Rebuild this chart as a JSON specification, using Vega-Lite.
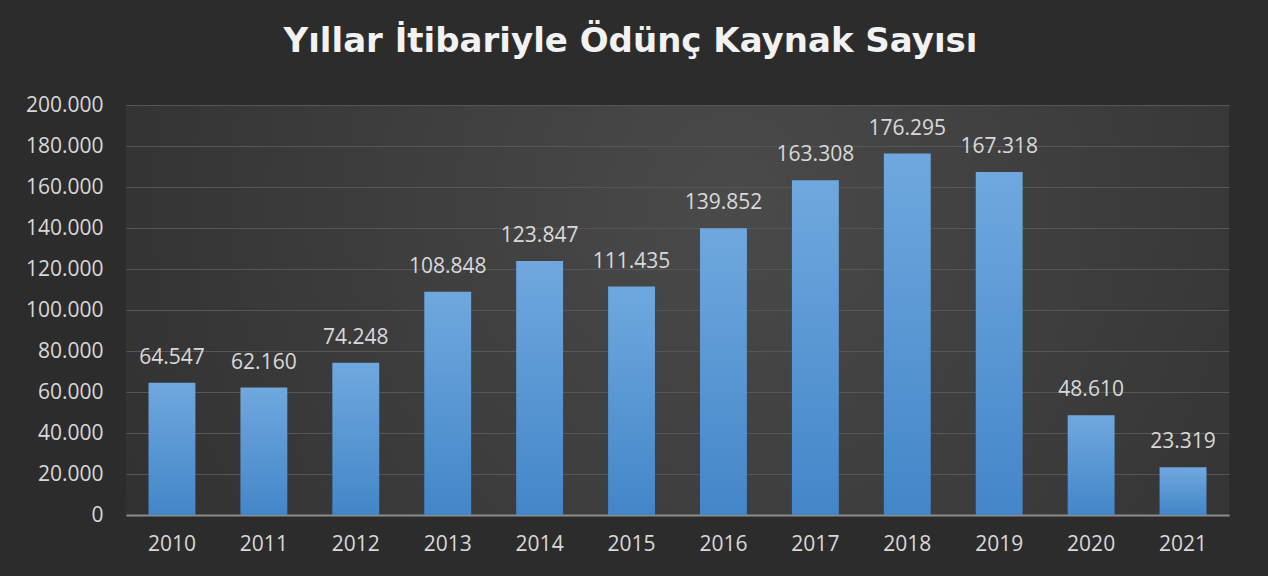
{
  "$schema": "https://vega.github.io/schema/vega-lite/v6.json",
  "width": 1103,
  "height": 410,
  "autosize": "none",
  "padding": {"left": 126, "top": 105, "right": 39, "bottom": 61},
  "background": "#2c2c2c",
  "title": {
    "text": "Yıllar İtibariyle Ödünç Kaynak Sayısı",
    "font": "DejaVu Sans",
    "fontSize": 34,
    "fontWeight": "bold",
    "color": "#f2f2f2",
    "anchor": "middle",
    "dx": -47,
    "offset": 8,
    "baseline": "alphabetic"
  },
  "config": {
    "view": {
      "stroke": null,
      "fill": {
        "gradient": "radial",
        "x1": 0.55, "y1": 0.4, "r1": 0,
        "x2": 0.55, "y2": 0.4, "r2": 0.75,
        "stops": [
          {"offset": 0, "color": "#4a4a4a"},
          {"offset": 1, "color": "#2c2c2c"}
        ]
      }
    },
    "locale": {
      "number": {"decimal": ",", "thousands": ".", "grouping": [3], "currency": ["", ""]}
    }
  },
  "data": {
    "values": [
      {"year": "2010", "count": 64547},
      {"year": "2011", "count": 62160},
      {"year": "2012", "count": 74248},
      {"year": "2013", "count": 108848},
      {"year": "2014", "count": 123847},
      {"year": "2015", "count": 111435},
      {"year": "2016", "count": 139852},
      {"year": "2017", "count": 163308},
      {"year": "2018", "count": 176295},
      {"year": "2019", "count": 167318},
      {"year": "2020", "count": 48610},
      {"year": "2021", "count": 23319}
    ]
  },
  "encoding": {
    "x": {
      "field": "year",
      "type": "nominal",
      "sort": null,
      "scale": {"paddingInner": 0.49, "paddingOuter": 0.245},
      "axis": {
        "title": null,
        "labelAngle": 0,
        "labelFont": "Open Sans",
        "labelFontSize": 21,
        "labelColor": "#d9d9d9",
        "labelPadding": 18,
        "ticks": false,
        "domainColor": "#8c8c8c",
        "domainWidth": 2,
        "grid": false
      }
    },
    "y": {
      "field": "count",
      "type": "quantitative",
      "scale": {"domain": [0, 200000], "nice": false},
      "axis": {
        "title": null,
        "values": [0, 20000, 40000, 60000, 80000, 100000, 120000, 140000, 160000, 180000, 200000],
        "format": ",d",
        "labelFont": "Open Sans",
        "labelFontSize": 21,
        "labelColor": "#d9d9d9",
        "labelPadding": 23,
        "ticks": false,
        "domain": false,
        "gridColor": "#565656",
        "gridWidth": 1
      }
    }
  },
  "layer": [
    {
      "mark": {
        "type": "bar",
        "color": {
          "gradient": "linear",
          "x1": 0, "y1": 0, "x2": 0, "y2": 1,
          "stops": [
            {"offset": 0, "color": "#6fa8de"},
            {"offset": 1, "color": "#4386c8"}
          ]
        }
      }
    },
    {
      "mark": {
        "type": "text",
        "baseline": "alphabetic",
        "dy": -19,
        "font": "Open Sans",
        "fontSize": 21,
        "color": "#d9d9d9"
      },
      "encoding": {
        "text": {"field": "count", "type": "quantitative", "format": ",d"}
      }
    }
  ]
}
